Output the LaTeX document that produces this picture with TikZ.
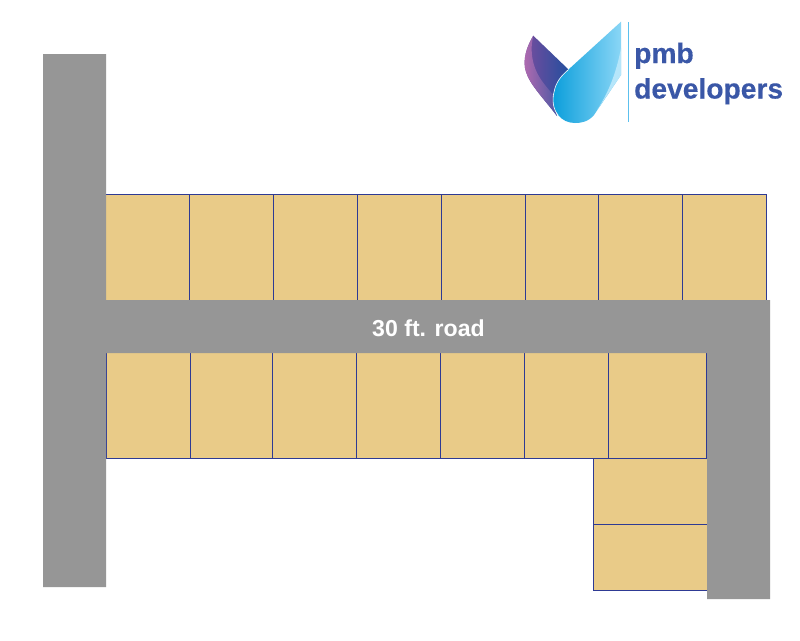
\documentclass[tikz,border=0pt]{standalone}
\usepackage{fontspec}
\setmainfont{Liberation Sans}
\newfontfamily\brandfont[BoldFeatures={FakeBold=0.35}]{Liberation Sans}
\definecolor{road}{HTML}{969696}
\definecolor{lot}{HTML}{E9CB88}
\definecolor{edgeblue}{HTML}{2E3A94}
\definecolor{brandblue}{HTML}{3A57A7}
\definecolor{ruleblue}{HTML}{5CC0EE}
\definecolor{wingA}{HTML}{7A4C9E}
\definecolor{wingB}{HTML}{244F9E}
\definecolor{bandA}{HTML}{B56BB0}
\definecolor{bandB}{HTML}{4F58A4}
\definecolor{skyA}{HTML}{0A9EDB}
\definecolor{skyB}{HTML}{8AD6F6}
\definecolor{skyC}{HTML}{B6E6FA}
\tikzset{
  roadfill/.style={fill=road,draw=none},
  lotfill/.style={fill=lot,draw=none},
  lotline/.style={draw=edgeblue,line width=0.9pt},
  brand/.style={text=brandblue,font=\brandfont\bfseries\fontsize{28.2}{30}\selectfont,anchor=base west,inner sep=0pt},
}
\begin{document}
\begin{tikzpicture}[x=1pt,y=-1pt]
\useasboundingbox (0,0) rectangle (800,640);
\fill[white] (0,0) rectangle (800,640);
% lots
\path[lotfill] (106,194) rectangle (767,300);
\path[lotfill] (106,353) rectangle (707,458.5);
\path[lotfill] (593.5,458.5) rectangle (707,590.5);
% lot lines, top row
\draw[lotline] (106,194.5) -- (767,194.5);
\foreach \x in {189.5,273.5,357.5,441.5,525.5,598.5,682.5,766.5}
  \draw[lotline] (\x,194) -- (\x,300);
% lot lines, bottom row
\foreach \x in {106.5,190.5,272.5,356.5,440.5,524.5,608.5,706.5}
  \draw[lotline] (\x,353) -- (\x,458.5);
\draw[lotline] (106,458.5) -- (707,458.5);
\draw[lotline] (593.5,458.5) -- (593.5,590.5) -- (707,590.5);
\draw[lotline] (593.5,524.5) -- (707,524.5);
% roads
\path[roadfill] (43,54) -- (106,54) -- (106,300) -- (770,300) -- (770,599) -- (707,599)
  -- (707,353) -- (106,353) -- (106,587) -- (43,587) -- cycle;
\node[text=white,font=\bfseries\fontsize{23.1}{26}\selectfont,inner sep=0pt] (roadlabel) at (428.5,328) {30 ft. road};
% logo: left wing
\shade[left color=wingA,right color=wingB]
  (533.3,35.7) -- (568.5,69.5) .. controls (558,78) and (553,90) .. (553.3,102)
  .. controls (553.5,107) and (555,112) .. (557,116)
  .. controls (545,100) and (530,85) .. (526,72)
  .. controls (522,60) and (527,46) .. (533.3,35.7) -- cycle;
\shade[left color=bandA,right color=bandB]
  (533.3,35.7) .. controls (527,46) and (522,60) .. (526,72)
  .. controls (530,85) and (545,100) .. (557,116)
  .. controls (555,110) and (553,105) .. (553.3,95)
  .. controls (545,85) and (538,78) .. (534,65)
  .. controls (531,55) and (531,45) .. (533.3,35.7) -- cycle;
% logo: right wing
\shade[left color=skyA,right color=skyB]
  (621,21.7) -- (621,75) -- (594,115)
  .. controls (588,122) and (581,123) .. (575,123)
  .. controls (568,123) and (562,120) .. (558,115)
  .. controls (553,109) and (552,100) .. (554,92)
  .. controls (556,82) and (561,76) .. (568.5,69.5) -- cycle;
\fill[skyC]
  (621,48) -- (621,75) -- (597,110) .. controls (607,95) and (616,75) .. (621,48) -- cycle;
\draw[white,line width=0.6pt] (568.5,69.5) .. controls (561,76) and (556,82) .. (554,92)
  .. controls (552,100) and (553,109) .. (558,115);
\draw[ruleblue,line width=1.8pt] (628.5,22) -- (628.5,122);
\node[brand] (pmb) at (634,63) {pmb};
\node[brand] (dev) at (634,98.5) {developers};
\end{tikzpicture}
\end{document}
